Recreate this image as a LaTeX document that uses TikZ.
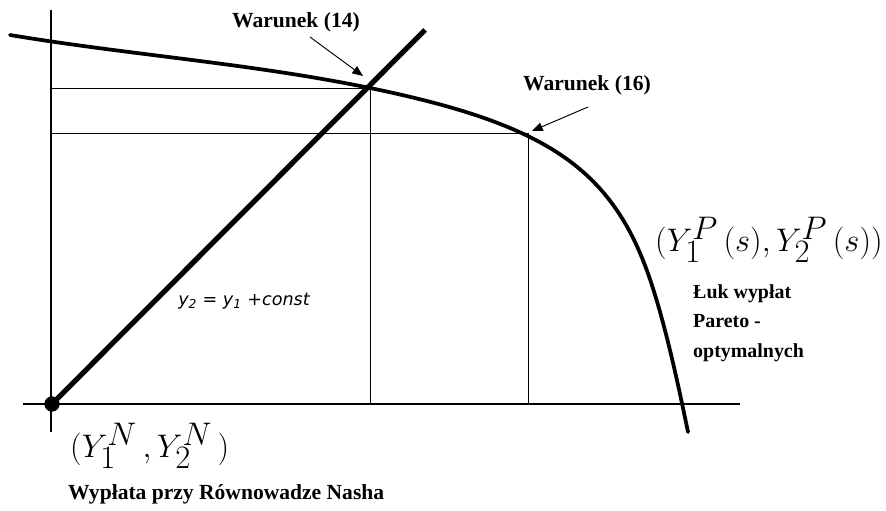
\documentclass[tikz,border=0pt]{standalone}
\usepackage{graphicx}
\usepackage{fontspec}
\setmainfont{Liberation Serif}
\newfontfamily\eqfont{DejaVu Sans}
\usetikzlibrary{arrows.meta,calc,positioning}
\newcommand{\bigpay}[1]{\scalebox{1.12}{$#1$}}
\tikzset{
  axis/.style={line width=1.6pt},
  guide/.style={line width=0.8pt},
  frontier/.style={line width=3.2pt,line join=round,line cap=round},
  diag/.style={line width=4.4pt},
  pointer/.style={-{Triangle[length=3.2mm,width=2.6mm]},line width=0.8pt},
  nashdot/.style={circle,fill=black,inner sep=0pt,minimum size=4.6mm},
  caption/.style={font=\fontsize{18.4}{25.5}\selectfont\bfseries,inner sep=0pt},
  arccaption/.style={font=\fontsize{17}{25.5}\selectfont\bfseries,inner sep=0pt},
  payoff/.style={font=\fontsize{40}{46}\selectfont,inner sep=0pt},
  eqlabel/.style={font=\fontsize{15}{17}\selectfont\eqfont\itshape,inner sep=0pt}
}

\begin{document}
\begin{tikzpicture}[x=0.03cm,y=-0.03cm]
  \useasboundingbox (0,0) rectangle (886,511);

  % axes
  \coordinate (yTop) at (51,10);
  \coordinate (yBot) at (51,432);
  \coordinate (xLeft) at (23,404);
  \coordinate (xRight) at (740,404);
  \draw[axis] (yTop) -- (yBot);
  \draw[axis] (xLeft) -- (xRight);

  % points on the frontier
  \coordinate (cond14) at (370,88);
  \coordinate (cond16) at (528,133);
  \draw[guide] (cond14 -| yTop) -- (cond14) -- (cond14 |- xLeft);
  \draw[guide] (cond16 -| yTop) -- (cond16) -- (cond16 |- xLeft);

  % Pareto frontier
  \coordinate (arcStart) at (10,35);
  \coordinate (arcBend) at (640,253);
  \coordinate (arcEnd) at (688,432);
  \draw[frontier] (arcStart) .. controls (130,55) and (250,63.3) .. (cond14)
    .. controls (530,121) and (600,160) .. (arcBend)
    .. controls (660,299.4) and (676,374) .. (arcEnd);

  % y2 = y1 + const
  \node[nashdot] (nash) at (52,404) {};
  \coordinate (diagEnd) at (425,30);
  \draw[diag] (nash.center) -- (diagEnd);

  \node[eqlabel] (eqline) at (244,301) {y\textsubscript{2} {\upshape =} y\textsubscript{1} {\upshape +}const};

  % labels with pointers
  \node[caption] (w14) at (296,22) {Warunek (14)};
  \coordinate (from14) at (310,37);
  \coordinate (tip14) at (363,76);
  \draw[pointer] (from14) -- (tip14);

  \node[caption] (w16) at (587,85) {Warunek (16)};
  \coordinate (from16) at (588,107);
  \coordinate (tip16) at (532,131);
  \draw[pointer] (from16) -- (tip16);

  \node[payoff,anchor=west] (paretoPt) at (655,240) {\bigpay{(Y_1^P\,(s),Y_2^P\,(s))}};
  \node[arccaption,align=left,anchor=north west] (arcText) at (693,284) {Łuk wypłat\\Pareto -\\optymalnych};

  \node[payoff,anchor=west] (nashPt) at (70,446) {\bigpay{(Y_1^N\,,Y_2^N\,)}};
  \node[caption,anchor=west] (nashText) at (68,494) {Wypłata przy Równowadze Nasha};
\end{tikzpicture}
\end{document}
